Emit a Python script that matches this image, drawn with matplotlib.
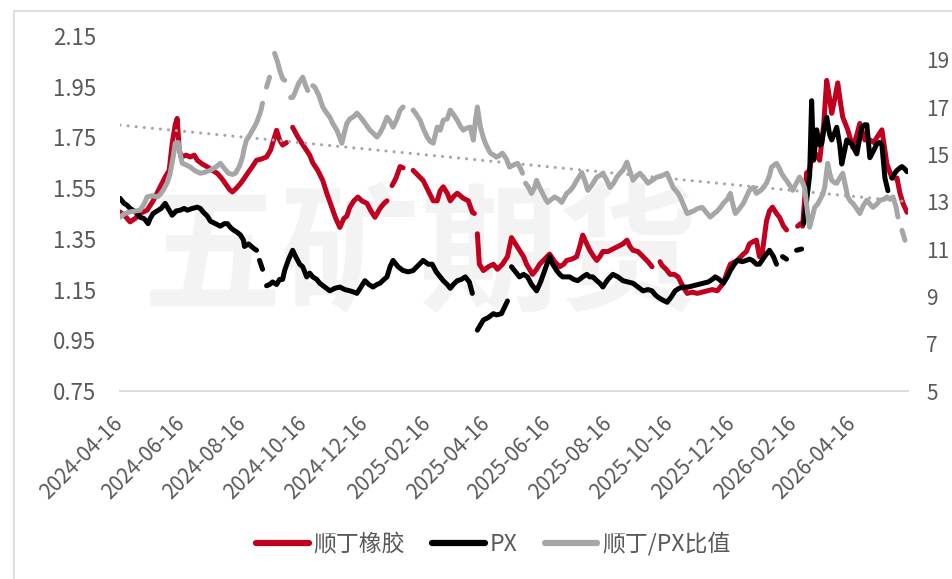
import numpy as np
import pandas as pd
import matplotlib
matplotlib.use("Agg")
import matplotlib.pyplot as plt
from matplotlib.patches import Rectangle

plt.rcParams['font.family'] = ['Noto Sans CJK SC', 'DejaVu Sans']

start = pd.Timestamp("2024-04-16")

# 顺丁橡胶 (left axis); days since 2024-04-16, NaN marks a gap in the line
br_days = [0, 5, 10, 15, 20, 27, 33, 40, 45, 49, 52, 55, 57, 59, 61, 66, 70, 74, 77, 82,
           87, 92, 97, 101, 105, 109, 112, 116, 120, 124, 127, 131, 136, 141, 146, 150, 154, 156, 159, 162,
           166, 168, 172, 176, 179, 184, 189, 192, 197, 202, 206, 211, 215, 219, 223, 226, 229, 233, 237, 241,
           246, 250, 254, 259, 263, 266, 268, 271, 275, 279, 282, 285, 292, 297, 302, 307, 312, 316, 319, 322,
           326, 329, 333, 336, 339, 342, 347, 351, 353, 354, 356, 358, 362, 367, 372, 376, 381, 386, 390, 394,
           398, 402, 405, 408, 411, 415, 418, 423, 428, 433, 438, 442, 445, 450, 455, 458, 461, 465, 468, 472,
           475, 478, 481, 486, 491, 496, 501, 505, 508, 511, 516, 521, 526, 530, 534, 538, 540, 544, 548, 552,
           556, 561, 565, 570, 575, 580, 585, 590, 595, 598, 601, 605, 608, 615, 621, 624, 627, 631, 634, 637,
           640, 644, 647, 650, 654, 657, 661, 664, 668, 675, 678, 680, 684, 687, 690, 694, 697, 701, 704, 707,
           709, 712, 715, 718, 720, 725, 730, 734, 737, 742, 747, 751, 754, 759, 762, 764, 769, 774, 777, 780,
           784]
br_vals = [1.456, 1.44, 1.417, 1.43, 1.45, 1.463, 1.50, 1.555, 1.594, 1.62, 1.727, 1.80, 1.825, 1.70, 1.673, 1.68, 1.673, 1.68, 1.66, 1.645,
           1.634, 1.62, 1.608, 1.59, 1.568, 1.545, 1.535, 1.55, 1.568, 1.59, 1.608, 1.63, 1.66, 1.665, 1.673, 1.70, 1.752, 1.778, 1.74, 1.72,
           1.73, np.nan, 1.79, 1.76, 1.74, 1.71, 1.68, 1.65, 1.62, 1.58, 1.53, 1.475, 1.43, 1.395, 1.43, 1.44, 1.475, 1.50, 1.515, 1.50,
           1.49, 1.46, 1.435, 1.47, 1.49, 1.50, np.nan, 1.56, 1.59, 1.635, 1.63, np.nan, 1.62, 1.60, 1.58, 1.54, 1.50, 1.50, 1.54, 1.555,
           1.53, 1.50, 1.52, 1.53, 1.52, 1.51, 1.50, 1.455, 1.45, np.nan, 1.37, 1.25, 1.225, 1.24, 1.25, 1.23, 1.25, 1.28, 1.355, 1.33,
           1.305, 1.28, 1.25, 1.23, 1.21, 1.23, 1.25, 1.27, 1.29, 1.26, 1.24, 1.25, 1.265, 1.27, 1.28, 1.32, 1.365, 1.33, 1.305, 1.28,
           1.265, 1.28, 1.30, 1.30, 1.31, 1.32, 1.33, 1.345, 1.32, 1.305, 1.30, 1.28, 1.26, 1.24, np.nan, 1.26, 1.245, 1.23, 1.21, 1.21,
           1.20, 1.16, 1.135, 1.14, 1.135, 1.14, 1.145, 1.15, 1.145, 1.16, 1.175, 1.22, 1.25, 1.265, 1.29, 1.30, 1.33, 1.34, 1.345, 1.28,
           1.30, 1.42, 1.46, 1.475, 1.45, 1.435, 1.40, 1.385, np.nan, 1.40, 1.41, 1.40, 1.61, 1.62, 1.70, 1.68, 1.66, 1.80, 1.975, 1.90,
           1.845, 1.90, 1.965, 1.88, 1.83, 1.78, 1.71, 1.76, 1.805, 1.74, 1.74, 1.73, 1.75, 1.78, 1.70, 1.645, 1.59, 1.59, 1.53, 1.49,
           1.455]

# PX (left axis)
px_days = [0, 4, 7, 10, 13, 17, 20, 24, 28, 30, 33, 37, 41, 45, 48, 52, 56, 60, 64, 67,
           72, 77, 80, 83, 87, 90, 95, 100, 104, 107, 110, 113, 117, 120, 123, 124, 128, 131, 134, 136,
           137, 139, 142, 144, 146, 149, 152, 156, 159, 162, 164, 168, 172, 175, 179, 182, 186, 189, 192, 196,
           199, 204, 209, 214, 219, 224, 229, 233, 236, 240, 244, 248, 252, 256, 259, 263, 266, 269, 272, 277,
           282, 287, 292, 297, 302, 307, 311, 315, 319, 322, 326, 329, 332, 336, 340, 344, 348, 351, 353, 356,
           359, 362, 367, 372, 375, 380, 383, 386, 388, 390, 394, 398, 402, 406, 410, 415, 419, 423, 428, 431,
           435, 438, 441, 445, 448, 452, 456, 461, 465, 468, 471, 475, 478, 481, 486, 491, 496, 501, 506, 511,
           516, 521, 526, 530, 533, 536, 540, 545, 549, 553, 557, 561, 566, 571, 576, 581, 586, 590, 593, 597,
           601, 605, 608, 612, 615, 620, 624, 627, 630, 634, 637, 642, 647, 651, 654, 656, 660, 664, 668, 674,
           679, 680, 681, 684, 687, 689, 691, 694, 697, 699, 702, 704, 707, 709, 712, 714, 717, 719, 722, 724,
           727, 729, 732, 734, 737, 739, 742, 744, 747, 751, 754, 757, 759, 762, 765, 767, 769, 772, 774, 777,
           779, 782, 784]
px_vals = [1.51, 1.49, 1.483, 1.47, 1.463, 1.45, 1.435, 1.43, 1.41, 1.43, 1.45, 1.46, 1.47, 1.49, 1.47, 1.443, 1.46, 1.463, 1.47, 1.463,
           1.47, 1.475, 1.47, 1.455, 1.44, 1.42, 1.41, 1.40, 1.41, 1.41, 1.395, 1.385, 1.375, 1.365, 1.345, 1.32, 1.33, 1.32, 1.31, 1.305,
           np.nan, 1.265, 1.23, np.nan, 1.165, 1.17, 1.18, 1.17, 1.19, 1.19, 1.225, 1.27, 1.305, 1.28, 1.25, 1.24, 1.20, 1.215, 1.20, 1.19,
           1.175, 1.16, 1.145, 1.155, 1.16, 1.15, 1.145, 1.14, 1.135, 1.16, 1.185, 1.17, 1.16, 1.17, 1.175, 1.19, 1.20, 1.24, 1.265, 1.24,
           1.225, 1.22, 1.225, 1.245, 1.265, 1.25, 1.25, 1.22, 1.20, 1.185, 1.17, 1.155, 1.17, 1.185, 1.19, 1.20, 1.18, 1.135, np.nan, 0.99,
           1.01, 1.03, 1.04, 1.055, 1.05, 1.055, 1.08, 1.105, np.nan, 1.24, 1.22, 1.20, 1.21, 1.20, 1.17, 1.145, 1.18, 1.225, 1.28, 1.25,
           1.225, 1.21, 1.20, 1.20, 1.20, 1.19, 1.185, 1.20, 1.21, 1.20, 1.20, 1.185, 1.175, 1.16, 1.19, 1.21, 1.20, 1.185, 1.18, 1.175,
           1.16, 1.145, 1.15, 1.145, 1.13, 1.12, 1.11, 1.10, 1.12, 1.145, 1.155, 1.16, 1.16, 1.165, 1.17, 1.175, 1.18, 1.19, 1.20, 1.19,
           1.175, 1.20, 1.225, 1.25, 1.265, 1.26, 1.265, 1.27, 1.265, 1.25, 1.25, 1.28, 1.305, 1.28, 1.25, np.nan, 1.28, 1.27, np.nan, 1.305,
           1.31, np.nan, 1.41, 1.50, 1.60, 1.895, 1.66, 1.78, 1.72, 1.725, 1.80, 1.83, 1.76, 1.74, 1.77, 1.79, 1.72, 1.645, 1.70, 1.74,
           1.73, 1.725, 1.70, 1.685, 1.75, 1.79, 1.80, 1.80, 1.67, 1.70, 1.725, 1.73, 1.72, 1.59, 1.54, np.nan, 1.59, 1.61, 1.62, 1.63,
           1.635, 1.625, 1.615]

# 顺丁/PX比值 (right axis)
ratio_days = [0, 5, 10, 15, 20, 24, 27, 32, 37, 40, 43, 47, 50, 53, 55, 58, 60, 62, 66, 70,
              75, 80, 85, 90, 95, 100, 104, 108, 112, 115, 119, 122, 124, 126, 129, 132, 135, 137, 140, 142,
              144, 146, 149, 151, 154, 157, 159, 162, 164, 167, 170, 172, 174, 178, 182, 185, 187, 189, 192, 194,
              198, 202, 205, 209, 212, 216, 219, 221, 224, 226, 229, 233, 236, 239, 242, 246, 249, 252, 256, 259,
              262, 266, 269, 272, 276, 279, 282, 286, 292, 295, 299, 302, 306, 309, 312, 316, 319, 322, 326, 329,
              332, 336, 339, 342, 345, 349, 352, 354, 356, 359, 362, 364, 367, 369, 373, 375, 378, 381, 385, 388,
              392, 396, 399, 401, 402, 404, 407, 410, 413, 415, 418, 421, 424, 426, 430, 433, 437, 440, 443, 445,
              448, 451, 455, 460, 463, 466, 470, 475, 478, 481, 485, 488, 492, 495, 498, 501, 505, 508, 511, 515,
              518, 522, 526, 530, 535, 540, 545, 548, 551, 555, 558, 562, 565, 568, 571, 575, 580, 584, 588, 592,
              595, 598, 601, 605, 608, 611, 613, 617, 621, 624, 627, 631, 634, 639, 644, 647, 649, 654, 657, 659,
              662, 664, 667, 670, 674, 677, 680, 682, 685, 687, 690, 692, 695, 697, 700, 702, 705, 707, 709, 712,
              714, 717, 720, 723, 725, 728, 730, 734, 737, 740, 744, 747, 750, 754, 757, 761, 764, 767, 770, 773,
              775, 777, 779, 782]
ratio_vals = [12.35, 12.5, 12.57, 12.6, 12.64, 12.9, 13.2, 13.25, 13.2, 13.3, 13.48, 13.8, 14.2, 14.9, 15.47, 15.5, 15.0, 14.62, 14.55, 14.46,
              14.3, 14.2, 14.25, 14.33, 14.45, 14.62, 14.4, 14.2, 14.15, 14.2, 14.5, 14.88, 15.3, 15.6, 15.8, 16.02, 16.25, 16.44, 16.8, 17.16,
              np.nan, 17.84, 18.26, np.nan, 19.27, 18.9, 18.56, 18.2, 18.13, np.nan, 17.4, 17.4, 17.58, 18.0, 18.26, 17.9, 17.7, np.nan, 17.9, 17.84,
              17.5, 17.0, 16.8, 16.57, 16.3, 16.02, 15.7, 15.47, 16.0, 16.31, 16.5, 16.6, 16.74, 16.6, 16.44, 16.2, 16.02, 15.9, 15.73, 15.9,
              16.15, 16.57, 16.4, 16.15, 16.5, 16.87, 17.0, np.nan, 16.87, 16.7, 16.44, 16.1, 15.73, 15.55, 15.47, 16.15, 16.02, 16.44, 16.5, 16.87,
              16.7, 16.44, 16.2, 16.02, 16.1, 16.15, 15.6, 16.4, 17.0, 16.15, 15.7, 15.47, 15.2, 15.05, 14.95, 14.88, 14.95, 15.05, 14.8, 14.46,
              14.55, 14.62, 14.4, 14.2, np.nan, 13.78, 13.6, 13.35, 13.6, 13.9, 13.6, 13.35, 13.1, 12.97, 13.1, 13.2, 13.1, 12.97, 13.2, 13.35,
              13.45, 13.6, 13.9, 14.23, 13.9, 13.48, 13.7, 14.04, 14.1, 14.2, 13.9, 13.6, 13.8, 14.04, 14.2, 14.33, 14.67, 14.3, 13.9, 14.1,
              14.2, 14.0, 13.78, 13.9, 14.04, 14.1, 14.2, 13.9, 13.6, 13.4, 13.2, 12.8, 12.5, 12.55, 12.6, 12.7, 12.76, 12.55, 12.35, 12.5,
              12.6, 12.75, 12.93, 13.1, 13.35, 12.8, 12.5, 12.7, 12.93, 13.2, 13.48, 13.6, 13.35, 13.5, 13.78, 14.1, 14.46, 14.62, 14.4, 14.2,
              14.0, 13.9, 13.7, 13.48, 13.8, 14.04, 13.8, 13.6, 12.5, 11.92, 12.4, 12.76, 12.9, 13.06, 13.3, 13.6, 14.62, 14.2, 13.9, 13.8,
              13.78, 14.0, 14.2, 13.6, 13.2, 13.0, 12.93, 12.7, 12.5, 12.8, 13.06, 12.9, 12.76, 12.9, 13.06, 13.1, 13.2, 13.1, 13.2, 12.8,
              12.35, np.nan, 11.79, 11.37]

tick_labels = ["2024-04-16", "2024-06-16", "2024-08-16", "2024-10-16", "2024-12-16", "2025-02-16", "2025-04-16",
               "2025-06-16", "2025-08-16", "2025-10-16", "2025-12-16", "2026-02-16", "2026-04-16"]

RED = "#C0001E"
BLACK = "#000000"
GREY = "#A6A6A6"
TXT = "#595959"


def to_dates(days):
    return start + pd.to_timedelta(days, unit="D")


fig = plt.figure(figsize=(9.52, 5.79), dpi=100)
fig.patches.append(Rectangle((14 / 952, -0.1), 1.2, 1 - 10.5 / 579 + 0.1, transform=fig.transFigure,
                             fill=False, edgecolor="#d9d9d9", linewidth=1.2))
# watermark sits behind the axes
fig.text(0.441, 0.553, "五矿期货", fontsize=100, fontweight="bold", color="#f3f3f3",
         ha="center", va="center", zorder=-10)

ax = fig.add_axes([120 / 952, 1 - 391 / 579, 788 / 952, 355 / 579])
ax.patch.set_alpha(0)
ax2 = ax.twinx()

line_kw = dict(linewidth=3.6, solid_capstyle="round", solid_joinstyle="round")
ax.plot(to_dates(br_days), br_vals, color=RED, label="顺丁橡胶", **line_kw)
ax.plot(to_dates(px_days), px_vals, color=BLACK, label="PX", **line_kw)
ax2.plot(to_dates(ratio_days), ratio_vals, color=GREY, label="顺丁/PX比值", **line_kw)

# linear trend of the ratio
rd = np.array(ratio_days, dtype=float)
rv = np.array(ratio_vals, dtype=float)
ok = ~np.isnan(rv)
k, b = np.polyfit(rd[ok], rv[ok], 1)
trend_x = np.array([rd.min(), rd.max()])
ax2.plot(to_dates(trend_x), k * trend_x + b, color=GREY, linewidth=2.2,
         linestyle=(0, (0.05, 2.6)), dash_capstyle="round")

ax.set_ylim(0.75, 2.15)
ax.set_yticks(np.arange(0.75, 2.16, 0.2))
ax.set_yticklabels([f"{v:.2f}" for v in np.arange(0.75, 2.16, 0.2)])
ax2.set_ylim(5, 20)
ax2.set_yticks(range(5, 20, 2))

tick_dates = pd.to_datetime(tick_labels)
ax.set_xlim(start, start + pd.Timedelta(days=785))
ax.set_xticks(tick_dates)
ax.set_xticklabels(tick_labels, rotation=45, ha="right", va="center", rotation_mode="anchor")

for a in (ax, ax2):
    for s in a.spines.values():
        s.set_visible(False)
ax.spines["bottom"].set_visible(True)
ax.spines["bottom"].set_color("#d9d9d9")
ax.spines["bottom"].set_linewidth(1.3)

ax.tick_params(axis="x", length=0, pad=21, labelsize=15, labelcolor=TXT)
ax.tick_params(axis="y", length=0, pad=17, labelsize=16, labelcolor=TXT)
ax2.tick_params(axis="y", length=0, pad=13, labelsize=15, labelcolor=TXT)

handles = ax.get_lines()[:2] + ax2.get_lines()[:1]
fig.legend(handles, [h.get_label() for h in handles], loc="center", bbox_to_anchor=(0.518, 1 - 544 / 579),
           ncol=3, frameon=False, fontsize=16.5, handlelength=2.3, handletextpad=0.2, columnspacing=1.2,
           labelcolor=TXT)
for h in fig.legends[0].legend_handles:
    h.set_linewidth(4.5)

fig.savefig("out.png", dpi=100)
